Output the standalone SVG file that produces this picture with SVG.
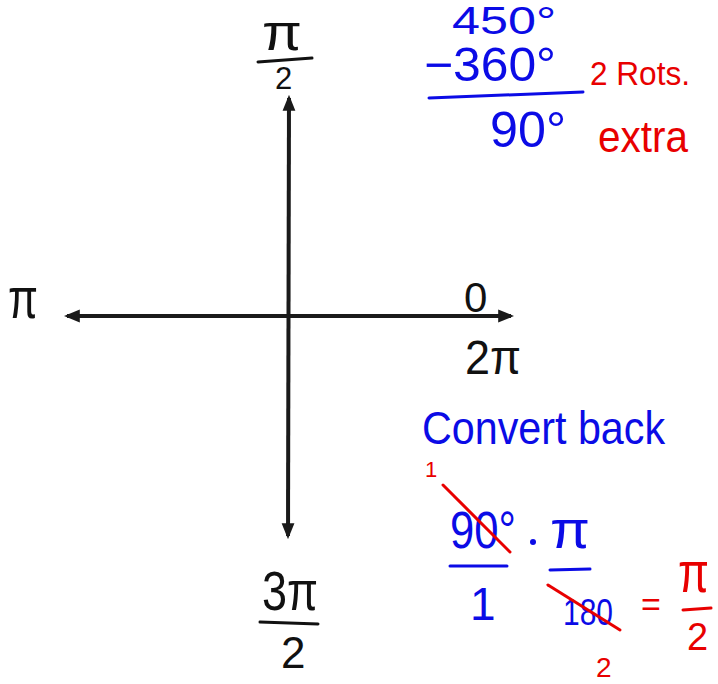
<svg xmlns="http://www.w3.org/2000/svg" width="718" height="684" viewBox="0 0 718 684">
<defs>
<marker id="ah" viewBox="0 0 10 10" refX="8" refY="5" markerWidth="4" markerHeight="4" orient="auto-start-reverse" markerUnits="strokeWidth">
<path d="M0,1 L10,5 L0,9 z" fill="#1a1a1a"/>
</marker>
<style>
.k{fill:#111;font-family:"Liberation Sans","DejaVu Sans",sans-serif}
.b{fill:#0b0be6;font-family:"Liberation Sans","DejaVu Sans",sans-serif}
.r{fill:#e80000;font-family:"Liberation Sans","DejaVu Sans",sans-serif}
.ks{stroke:#111;stroke-width:3;fill:none;stroke-linecap:round}
.bs{stroke:#0b0be6;stroke-width:3;fill:none;stroke-linecap:round}
.rs{stroke:#e80000;stroke-width:3;fill:none;stroke-linecap:round}
</style>
</defs>
<rect width="718" height="684" fill="#fff"/>
<g id="connectors">
<line x1="288" y1="536" x2="289" y2="98" stroke="#1a1a1a" stroke-width="4" marker-end="url(#ah)" marker-start="url(#ah)"/>
<line x1="67" y1="316" x2="511" y2="316" stroke="#1a1a1a" stroke-width="4" marker-end="url(#ah)" marker-start="url(#ah)"/>
</g>
<g id="label-pi-half">
<text class="k" x="262" y="50" font-size="52" textLength="40" lengthAdjust="spacingAndGlyphs">π</text>
<path class="ks" d="M258,62 L312,58"/>
<text class="k" x="275" y="89" font-size="31">2</text>
</g>
<g id="label-pi">
<text class="k" x="8" y="318" font-size="58" textLength="30" lengthAdjust="spacingAndGlyphs">π</text>
</g>
<g id="label-zero">
<text class="k" x="464" y="312" font-size="42">0</text>
<text class="k" x="465" y="374" font-size="48" textLength="56" lengthAdjust="spacingAndGlyphs">2π</text>
</g>
<g id="label-3pi-half">
<text class="k" x="262" y="610" font-size="56" textLength="56" lengthAdjust="spacingAndGlyphs">3π</text>
<path class="ks" d="M260,622 L318,624"/>
<text class="k" x="281" y="668" font-size="44">2</text>
</g>
<g id="subtraction">
<text class="b" x="452" y="34" font-size="38" textLength="104" lengthAdjust="spacingAndGlyphs">450°</text>
<text class="b" x="424" y="81" font-size="48" textLength="132" lengthAdjust="spacingAndGlyphs">−360°</text>
<path class="bs" d="M429,98 L583,92"/>
<text class="b" x="490" y="147" font-size="50" textLength="76" lengthAdjust="spacingAndGlyphs">90°</text>
<text class="r" x="590" y="85" font-size="34" textLength="100" lengthAdjust="spacingAndGlyphs">2 Rots.</text>
<text class="r" x="598" y="152" font-size="44" textLength="90" lengthAdjust="spacingAndGlyphs">extra</text>
</g>
<g id="conversion">
<text class="b" x="422" y="444" font-size="47" textLength="243" lengthAdjust="spacingAndGlyphs">Convert back</text>
<text class="r" x="425" y="477" font-size="22">1</text>
<text class="b" x="450" y="548" font-size="52" textLength="66" lengthAdjust="spacingAndGlyphs">90°</text>
<path class="rs" d="M443,485 L510,552"/>
<path class="bs" d="M450,566 L507,566"/>
<text class="b" x="470" y="620" font-size="46">1</text>
<circle cx="533" cy="542" r="3" fill="#0b0be6"/>
<text class="b" x="550" y="548" font-size="54" textLength="40" lengthAdjust="spacingAndGlyphs">π</text>
<path class="bs" d="M550,570 L590,569"/>
<text class="b" x="563" y="625" font-size="36" textLength="50" lengthAdjust="spacingAndGlyphs">180</text>
<path class="rs" d="M548,585 L620,630"/>
<text class="r" x="641" y="616" font-size="34">=</text>
<text class="r" x="678" y="592" font-size="58" textLength="31" lengthAdjust="spacingAndGlyphs">π</text>
<path class="rs" d="M683,610 L711,608"/>
<text class="r" x="687" y="650" font-size="38">2</text>
<text class="r" x="596" y="677" font-size="28">2</text>
</g>
</svg>
